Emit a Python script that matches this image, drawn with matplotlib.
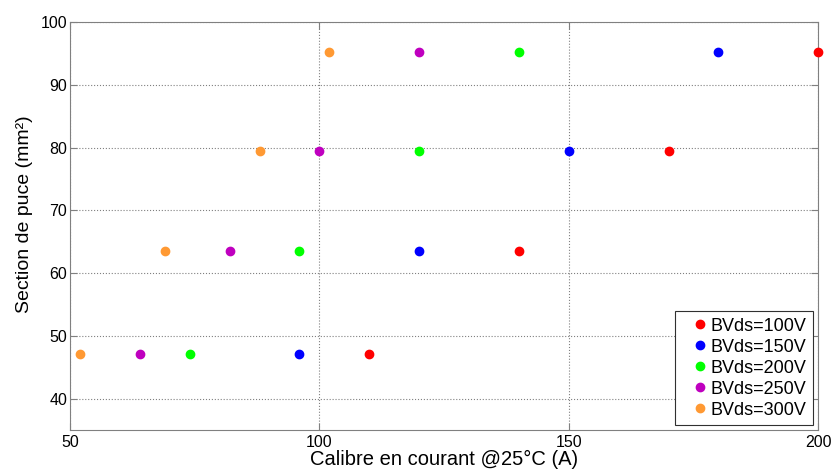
import matplotlib.pyplot as plt

plt.rcParams['font.family'] = ['Liberation Sans', 'DejaVu Sans']

# section de puce (mm²) pour chaque ligne de points
sections = [47.1, 63.5, 79.4, 95.3]

labels = ['BVds=100V', 'BVds=150V', 'BVds=200V', 'BVds=250V', 'BVds=300V']
calibre_100 = [110, 140, 170, 200]
calibre_150 = [96, 120, 150, 180]
calibre_200 = [74, 96, 120, 140]
calibre_250 = [64, 82, 100, 120]
calibre_300 = [52, 69, 88, 102]
colors = ['#ff0000', '#0000ff', '#00ff00', '#bf00bf', '#ff9933']

series = [calibre_100, calibre_150, calibre_200, calibre_250, calibre_300]

fig = plt.figure(figsize=(8.35, 4.72), dpi=100)
ax = fig.add_axes([0.0838, 0.089, 0.896, 0.864])

for xs, lab, c in zip(series, labels, colors):
    ax.plot(xs, sections, 'o', color=c, markersize=6, label=lab, clip_on=False, zorder=3)

ax.set_xlim(50, 200)
ax.set_ylim(35, 100)
ax.set_xticks([50, 100, 150, 200])
ax.set_yticks([40, 50, 60, 70, 80, 90, 100])
ax.grid(True, linestyle=':', color='#808080', linewidth=0.8)

for s in ax.spines.values():
    s.set_color('#808080')
ax.tick_params(direction='in', top=True, right=True, color='#808080',
               labelsize=11.5, labelcolor='black', length=5)
ax.tick_params(axis='y', pad=2)
ax.tick_params(axis='x', pad=3.5)

ax.set_xlabel('Calibre en courant @25°C (A)', fontsize=14.5)
ax.xaxis.set_label_coords(0.5, -0.049)
ax.xaxis.label.set_va('top')
ax.set_ylabel('Section de puce (mm²)', fontsize=14)
ax.yaxis.set_label_coords(-0.05, 0.53)

leg = ax.legend(loc='lower right', fontsize=13, handletextpad=-0.45,
                borderaxespad=0.28, labelspacing=0.22, handlelength=2.1,
                borderpad=0.35, fancybox=False, framealpha=1)
leg.get_frame().set_edgecolor('#303030')
leg.get_frame().set_linewidth(0.8)

fig.savefig('out.png', dpi=100)
